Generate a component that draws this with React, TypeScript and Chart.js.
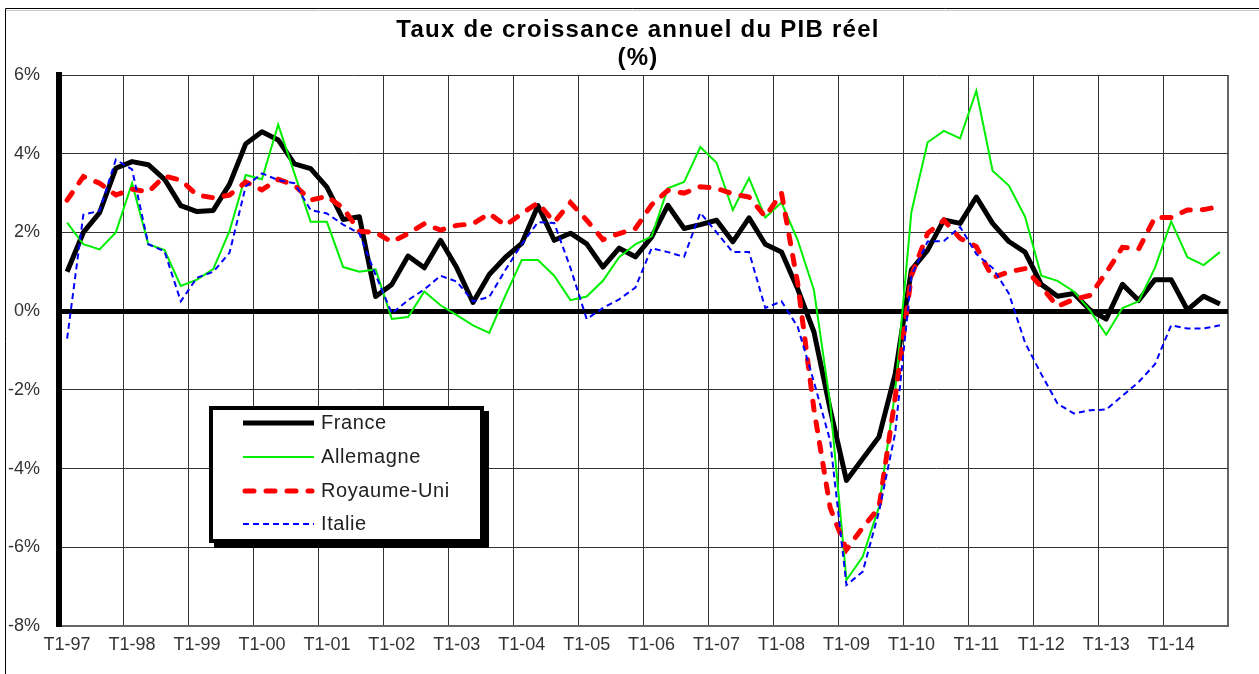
import { useEffect, useRef } from 'react';
import { Chart, registerables } from 'chart.js';

Chart.register(...registerables);

const YEARS = ['97', '98', '99', '00', '01', '02', '03', '04', '05', '06', '07', '08', '09', '10', '11', '12', '13', '14'];
const QUARTERS = ['T1', 'T2', 'T3', 'T4'];
const CATEGORIES = YEARS.flatMap((y) => QUARTERS.map((q) => `${q}-${y}`));

const TITLE_LINES = ['Taux de croissance annuel du PIB réel', '(%)'];

const SERIES_NAMES = ['France', 'Allemagne', 'Royaume-Uni', 'Italie'];

const FRANCE = [
  1.0, 2.0, 2.5, 3.63, 3.8, 3.72, 3.35, 2.68, 2.53, 2.56, 3.22, 4.25,
  4.56, 4.35, 3.74, 3.62, 3.15, 2.33, 2.4, 0.37, 0.68, 1.4, 1.1, 1.8,
  1.1, 0.22, 0.93, 1.37, 1.72, 2.68, 1.8, 1.98, 1.71, 1.12, 1.6, 1.38,
  1.88, 2.69, 2.1, 2.2, 2.31, 1.76, 2.37, 1.7, 1.5, 0.56, -0.53, -2.5,
  -4.3, -3.75, -3.2, -1.6, 1.05, 1.55, 2.32, 2.23, 2.9, 2.23, 1.77, 1.5,
  0.68, 0.38, 0.45, 0.03, -0.2, 0.68, 0.27, 0.8, 0.8, 0.03, 0.38, 0.18,
];

const ALLEMAGNE = [
  2.25, 1.7, 1.57, 2.0, 3.25, 1.7, 1.55, 0.64, 0.8, 1.07, 2.03, 3.46,
  3.35, 4.74, 3.5, 2.27, 2.27, 1.12, 1.0, 1.06, -0.2, -0.15, 0.5, 0.15,
  -0.1, -0.36, -0.55, 0.4, 1.3, 1.3, 0.9, 0.28, 0.37, 0.77, 1.37, 1.7,
  1.9, 3.12, 3.28, 4.17, 3.77, 2.57, 3.38, 2.38, 2.76, 1.8, 0.53, -2.35,
  -6.83, -6.24, -4.98, -2.05, 2.52, 4.29, 4.58, 4.39, 5.6, 3.57, 3.19, 2.4,
  0.9, 0.77, 0.5, 0.02, -0.6, 0.08, 0.25, 1.1, 2.28, 1.37, 1.17, 1.5,
];

const ROYAUME_UNI = [
  2.82, 3.42, 3.25, 2.95, 3.1, 3.03, 3.43, 3.33, 2.95, 2.88, 2.95, 3.28,
  3.08, 3.35, 3.2, 2.82, 2.92, 2.62, 2.03, 2.0, 1.76, 1.97, 2.22, 2.06,
  2.18, 2.22, 2.48, 2.18, 2.48, 2.75, 2.26, 2.76, 2.31, 1.82, 1.97, 2.1,
  2.7, 3.07, 3.0, 3.16, 3.12, 2.98, 2.9, 2.4, 3.0, 0.7, -2.5, -5.0,
  -6.06, -5.5, -5.0, -2.2, 0.9, 1.98, 2.31, 1.85, 1.64, 0.85, 1.0, 1.08,
  0.62, 0.12, 0.3, 0.4, 0.98, 1.62, 1.58, 2.38, 2.38, 2.57, 2.58, 2.66,
];

const ITALIE = [
  -0.7, 2.45, 2.55, 3.85, 3.6, 1.7, 1.52, 0.25, 0.85, 1.0, 1.48, 3.17,
  3.5, 3.33, 3.25, 2.57, 2.48, 2.2, 1.97, 0.92, -0.06, 0.28, 0.55, 0.9,
  0.75, 0.25, 0.36, 1.05, 1.7, 2.26, 2.24, 1.1, -0.2, 0.08, 0.3, 0.6,
  1.6, 1.5, 1.38, 2.5, 2.0, 1.5, 1.5, 0.08, 0.25, -0.4, -1.8, -3.3,
  -6.96, -6.62, -5.1, -3.1, 0.9, 1.77, 1.78, 2.14, 1.45, 1.1, 0.45, -0.8,
  -1.6, -2.35, -2.6, -2.52, -2.5, -2.15, -1.8, -1.35, -0.36, -0.44, -0.44, -0.36,
];

const Y_MIN = -8;
const Y_MAX = 6;
const Y_STEP = 2;

const FONT = '"Liberation Sans", Arial, sans-serif';

const framePlugin = {
  id: 'frame',
  beforeDraw(chart: any) {
    const ctx = chart.ctx;
    ctx.save();
    ctx.fillStyle = '#ffffff';
    ctx.fillRect(0, 0, chart.width, chart.height);
    ctx.strokeStyle = '#000000';
    ctx.lineWidth = 1;
    ctx.beginPath();
    ctx.moveTo(5.5, chart.height);
    ctx.lineTo(5.5, 8.5);
    ctx.lineTo(chart.width, 8.5);
    ctx.stroke();
    ctx.strokeStyle = '#c8c8c8';
    ctx.beginPath();
    ctx.moveTo(6, 10.5);
    ctx.lineTo(chart.width, 10.5);
    ctx.stroke();
    ctx.restore();
  },
};

const titlePlugin = {
  id: 'stretchedTitle',
  afterDraw(chart: any) {
    const ctx = chart.ctx;
    ctx.save();
    ctx.fillStyle = '#000';
    ctx.font = `bold 24px ${FONT}`;
    ctx.textAlign = 'center';
    ctx.textBaseline = 'middle';
    try {
      (ctx as any).letterSpacing = '1.25px';
    } catch (e) {
      /* ignore */
    }
    ctx.fillText(TITLE_LINES[0], 638, 30);
    ctx.fillText(TITLE_LINES[1], 638, 58);
    try {
      (ctx as any).letterSpacing = '0px';
    } catch (e) {
      /* ignore */
    }
    ctx.restore();
  },
};

const boxLegendPlugin = {
  id: 'boxLegend',
  afterDraw(chart: any) {
    const ctx = chart.ctx;
    const left = 211;
    const top = 408;
    const right = 482;
    const bottom = 541;
    ctx.save();
    ctx.fillStyle = '#000';
    ctx.fillRect(left + 3, top + 3, right - left + 4, bottom - top + 4);
    ctx.fillStyle = '#fff';
    ctx.fillRect(left, top, right - left, bottom - top);
    ctx.strokeStyle = '#000';
    ctx.lineWidth = 4;
    ctx.strokeRect(left, top, right - left, bottom - top);
    const rows = [423, 457, 491, 524];
    chart.data.datasets.forEach((ds: any, i: number) => {
      const y = rows[i];
      ctx.save();
      ctx.strokeStyle = ds.borderColor;
      ctx.lineWidth = ds.borderWidth;
      ctx.lineCap = ds.borderCapStyle || 'butt';
      ctx.setLineDash(ds.borderDash || []);
      ctx.beginPath();
      const x0 = ds.borderCapStyle === 'round' ? 245 : 243;
      const x1 = ds.borderCapStyle === 'round' ? 312 : 314;
      ctx.moveTo(x0, y);
      ctx.lineTo(x1, y);
      ctx.stroke();
      ctx.restore();
      ctx.save();
      ctx.fillStyle = '#222';
      ctx.font = `20px ${FONT}`;
      ctx.textBaseline = 'middle';
      ctx.textAlign = 'left';
      try {
        (ctx as any).letterSpacing = '0.6px';
      } catch (e) {
        /* ignore */
      }
      ctx.fillText(ds.label, 321, y);
      try {
        (ctx as any).letterSpacing = '0px';
      } catch (e) {
        /* ignore */
      }
      ctx.restore();
    });
    ctx.restore();
  },
};

export default function App() {
  const canvasRef = useRef<HTMLCanvasElement | null>(null);

  useEffect(() => {
    const canvas = canvasRef.current;
    if (!canvas) return;
    const chart = new Chart(canvas, {
      type: 'line',
      data: {
        labels: CATEGORIES,
        datasets: [
          {
            label: SERIES_NAMES[0],
            data: FRANCE,
            borderColor: '#000000',
            borderWidth: 5,
            borderJoinStyle: 'round',
            pointRadius: 0,
            tension: 0,
            fill: false,
            order: 4,
          },
          {
            label: SERIES_NAMES[1],
            data: ALLEMAGNE,
            borderColor: '#00ee00',
            borderWidth: 2,
            pointRadius: 0,
            tension: 0,
            fill: false,
            order: 3,
          },
          {
            label: SERIES_NAMES[2],
            data: ROYAUME_UNI,
            borderColor: '#ff0000',
            borderWidth: 5,
            borderDash: [9, 12],
            borderCapStyle: 'round',
            pointRadius: 0,
            tension: 0,
            fill: false,
            order: 2,
          },
          {
            label: SERIES_NAMES[3],
            data: ITALIE,
            borderColor: '#0000ff',
            borderWidth: 2,
            borderDash: [6, 4],
            pointRadius: 0,
            tension: 0,
            fill: false,
            order: 1,
          },
        ],
      },
      options: {
        responsive: false,
        animation: false,
        devicePixelRatio: 1,
        layout: { padding: { left: 0, right: 31, top: 75, bottom: 0 } },
        plugins: {
          legend: { display: false },
          tooltip: { enabled: false },
          title: { display: false },
        },
        scales: {
          x: {
            type: 'category',
            offset: true,
            afterFit: (scale: any) => {
              scale.height = 48;
            },
            grid: {
              offset: true,
              drawTicks: false,
              color: (ctx: any) =>
                ctx.type !== 'tick' ? '#666' : ctx.index % 4 === 0 ? '#333' : 'rgba(0,0,0,0)',
              lineWidth: (ctx: any) => (ctx.type !== 'tick' ? 2 : 1),
            },
            border: { display: true, color: '#666', width: 2 },
            ticks: {
              autoSkip: false,
              maxRotation: 0,
              minRotation: 0,
              padding: 8,
              color: '#333',
              font: { family: FONT, size: 18 },
              callback: (_v: any, i: number) => (i % 4 === 0 ? CATEGORIES[i] : ''),
            },
          },
          y: {
            min: Y_MIN,
            max: Y_MAX,
            afterFit: (scale: any) => {
              scale.width = 59;
            },
            grid: {
              drawTicks: false,
              color: (ctx: any) =>
                ctx.tick && ctx.tick.value === 0 ? '#000' : ctx.tick && ctx.tick.value === Y_MIN ? '#666' : '#333',
              lineWidth: (ctx: any) =>
                ctx.tick && ctx.tick.value === 0 ? 5 : ctx.tick && ctx.tick.value === Y_MIN ? 2 : 1,
            },
            border: { display: true, color: '#000', width: 6 },
            ticks: {
              stepSize: Y_STEP,
              padding: 19,
              color: '#333',
              font: { family: FONT, size: 18 },
              callback: (v: any) => `${v}%`,
            },
          },
        },
      },
      plugins: [framePlugin, titlePlugin, boxLegendPlugin],
    } as any);
    return () => chart.destroy();
  }, []);

  return (
    <div style={{ position: 'fixed', left: 0, top: 0, width: 1259, height: 674, background: '#fff' }}>
      <canvas ref={canvasRef} width={1259} height={674} style={{ display: 'block' }} />
    </div>
  );
}
